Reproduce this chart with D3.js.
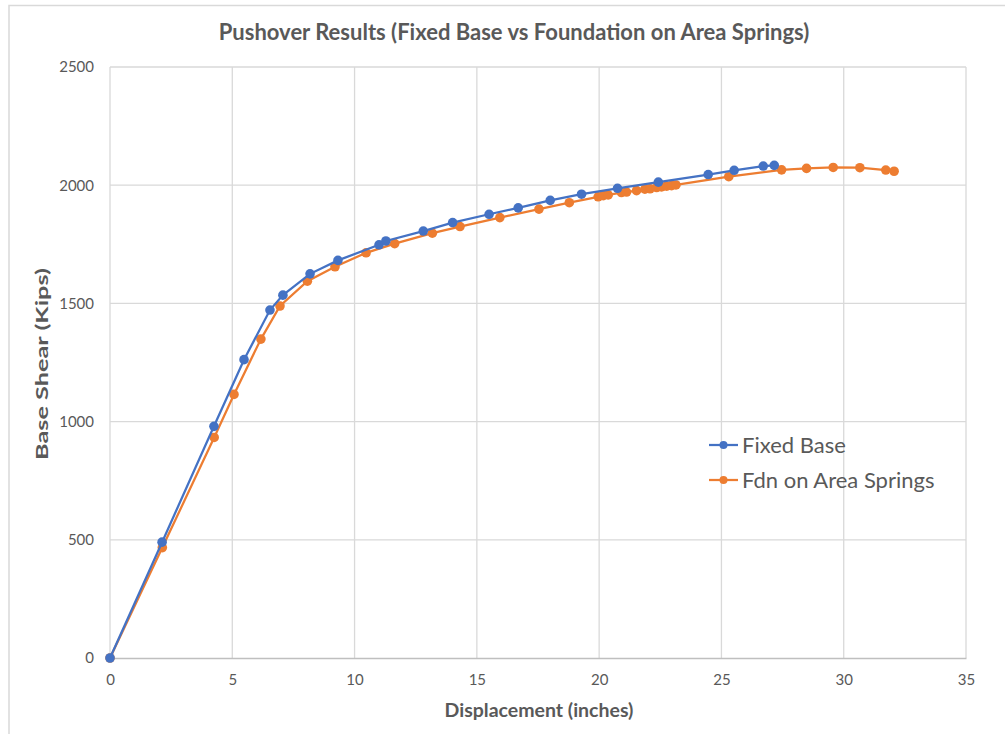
<!DOCTYPE html>
<html>
<head>
<meta charset="utf-8">
<script src="https://cdn.jsdelivr.net/npm/d3@7"></script>
<style>
  body { margin: 0; background: #fff; }
  svg { display: block; font-family: Lato, "Open Sans", sans-serif; }
</style>
</head>
<body>
<div class="chart-container"></div>
<script>
// Fixed base pushover curve (displacement in, base shear kips)
const fixedDisp  = [0, 2.13, 4.25, 5.48, 6.54, 7.07, 8.18, 9.32, 11.0, 11.28, 12.81, 14.01, 15.5, 16.69, 18.0,
  19.28, 20.75, 22.42, 24.46, 25.52, 26.71, 27.16];
const fixedShear = [0, 490, 980, 1262, 1472, 1535, 1625, 1682, 1748, 1764, 1806, 1842, 1877, 1904, 1936,
  1962, 1987, 2013, 2045, 2063, 2081, 2084];

// Foundation on area springs
const fdnDisp  = [0, 2.14, 4.26, 5.07, 6.17, 6.95, 8.07, 9.2, 10.47, 11.64, 13.18, 14.31, 15.94, 17.54, 18.78,
  19.96, 20.17, 20.37, 20.91, 21.12, 21.53, 21.87, 22.08, 22.35, 22.55, 22.76, 22.96, 23.14,
  25.3, 27.46, 28.48, 29.57, 30.66, 31.72, 32.06];
const fdnShear = [0, 467, 933, 1115, 1349, 1489, 1594, 1655, 1714, 1753, 1797, 1825, 1863, 1899, 1926,
  1951, 1956, 1959, 1969, 1971, 1977, 1983, 1985, 1990, 1993, 1996, 1998, 2001,
  2036, 2065, 2071, 2075, 2074, 2064, 2059];

const xTicks = [0, 5, 10, 15, 20, 25, 30, 35];
const yTicks = [0, 500, 1000, 1500, 2000, 2500];

const seriesNames = ['Fixed Base', 'Fdn on Area Springs'];
const seriesColors = ['#4472C4', '#ED7D31'];

const containerWidth = 1005;
const containerHeight = 734;
const margin = { top: 67, right: 39, bottom: 76, left: 110 };
const width = containerWidth - margin.left - margin.right;
const height = containerHeight - margin.top - margin.bottom;

const root = d3.select('.chart-container')
  .append('svg')
  .attr('width', containerWidth)
  .attr('height', containerHeight);

// chart frame
root.append('rect')
  .attr('x', 9).attr('y', 5.5)
  .attr('width', containerWidth).attr('height', containerHeight)
  .attr('fill', 'none')
  .attr('stroke', '#D9D9D9')
  .attr('stroke-width', 1.5);

const svg = root.append('g')
  .attr('transform', `translate(${margin.left}, ${margin.top})`);

const xScale = d3.scaleLinear().domain([0, 35]).range([0, width]);
const yScale = d3.scaleLinear().domain([0, 2500]).range([height, 0]);

// gridlines
svg.append('g')
  .selectAll('line.hgrid')
  .data(yTicks.filter(d => d > 0))
  .enter().append('line')
  .attr('x1', 0).attr('x2', width)
  .attr('y1', d => yScale(d)).attr('y2', d => yScale(d))
  .attr('stroke', '#D9D9D9').attr('stroke-width', 1.3);

svg.append('g')
  .selectAll('line.vgrid')
  .data(xTicks)
  .enter().append('line')
  .attr('x1', d => xScale(d)).attr('x2', d => xScale(d))
  .attr('y1', 0).attr('y2', height)
  .attr('stroke', '#D9D9D9').attr('stroke-width', 1.3);

// x axis
const xAxis = svg.append('g')
  .attr('transform', `translate(0, ${height})`)
  .call(d3.axisBottom(xScale).tickValues(xTicks).tickFormat(d3.format('d')).tickSize(0).tickPadding(16));
xAxis.select('.domain').attr('stroke', '#BFBFBF').attr('stroke-width', 1.3);
xAxis.selectAll('text').attr('fill', '#595959').style('font-size', '15px')
  .style('font-family', 'Lato, "Open Sans", sans-serif');

// y axis
const yAxis = svg.append('g')
  .call(d3.axisLeft(yScale).tickValues(yTicks).tickFormat(d3.format('d')).tickSize(0).tickPadding(16));
yAxis.select('.domain').remove();
yAxis.selectAll('text').attr('fill', '#595959').style('font-size', '15px')
  .style('font-family', 'Lato, "Open Sans", sans-serif');

// titles
root.append('text')
  .attr('x', 514).attr('y', 40)
  .attr('text-anchor', 'middle')
  .attr('fill', '#595959')
  .style('font-size', '22px').style('font-weight', 'bold')
  .text('Pushover Results (Fixed Base vs Foundation on Area Springs)');

root.append('text')
  .attr('x', 539).attr('y', 717)
  .attr('text-anchor', 'middle')
  .attr('fill', '#595959')
  .style('font-size', '19.5px').style('font-weight', 'bold')
  .text('Displacement (inches)');

root.append('text')
  .attr('transform', 'translate(48, 364) rotate(-90)')
  .attr('text-anchor', 'middle')
  .attr('fill', '#595959')
  .attr('textLength', 192)
  .attr('lengthAdjust', 'spacingAndGlyphs')
  .style('font-size', '17.5px').style('font-weight', 'bold')
  .text('Base Shear (Kips)');

// series
const series = [
  fixedDisp.map((d, i) => ({ x: d, y: fixedShear[i] })),
  fdnDisp.map((d, i) => ({ x: d, y: fdnShear[i] }))
];

const line = d3.line().x(d => xScale(d.x)).y(d => yScale(d.y));

// draw orange first so blue sits on top like the original
[1, 0].forEach(k => {
  svg.append('path')
    .datum(series[k])
    .attr('d', line)
    .attr('fill', 'none')
    .attr('stroke', seriesColors[k])
    .attr('stroke-width', 2.25);
  svg.append('g')
    .selectAll('circle')
    .data(series[k])
    .enter().append('circle')
    .attr('cx', d => xScale(d.x))
    .attr('cy', d => yScale(d.y))
    .attr('r', 4.8)
    .attr('fill', seriesColors[k]);
});

// legend
const legend = root.append('g').attr('transform', 'translate(709, 445)');
seriesNames.forEach((name, i) => {
  const g = legend.append('g').attr('transform', `translate(0, ${i * 35})`);
  g.append('line').attr('x1', 0).attr('x2', 29).attr('y1', 0).attr('y2', 0)
    .attr('stroke', seriesColors[i]).attr('stroke-width', 2.25);
  g.append('circle').attr('cx', 14.5).attr('cy', 0).attr('r', 4).attr('fill', seriesColors[i]);
  g.append('text').attr('x', 33).attr('y', 0).attr('dy', '0.35em')
    .attr('fill', '#595959').style('font-size', '22px')
    .text(name);
});
</script>
</body>
</html>
